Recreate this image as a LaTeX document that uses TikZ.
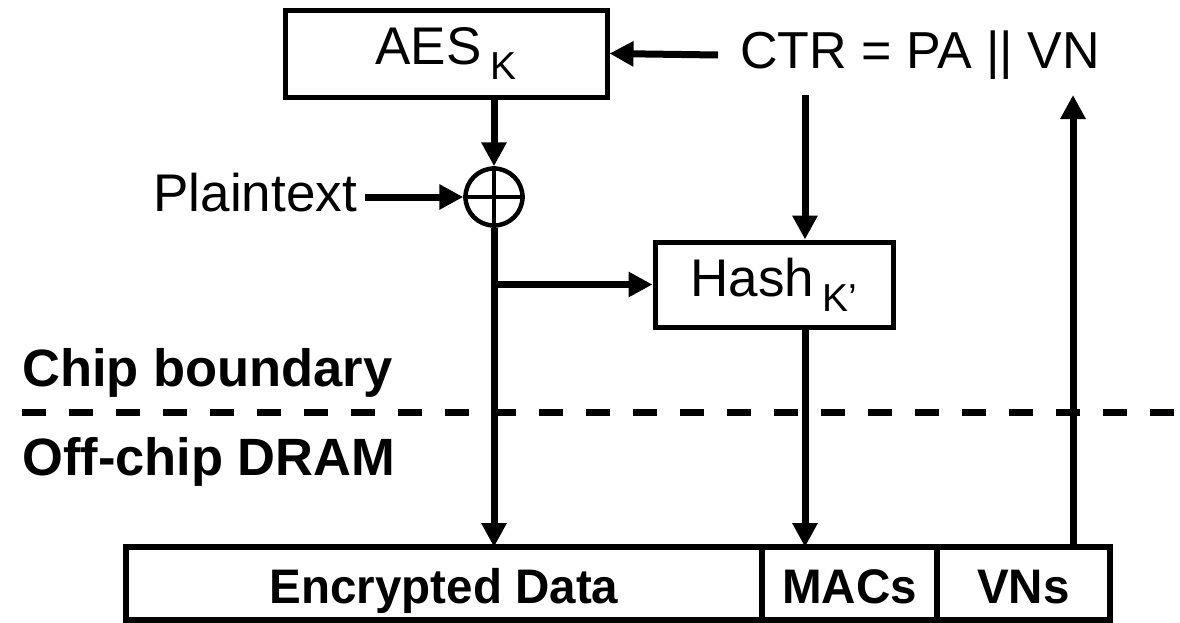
\documentclass[tikz,border=0pt]{standalone}
\usepackage{fontspec}
\usepackage{graphicx}
\setmainfont{Liberation Sans}
\usetikzlibrary{arrows.meta}

\newcommand{\bigtxt}{\fontsize{53}{62}\selectfont}
\newcommand{\ctrtxt}{\fontsize{52}{62}\selectfont}
\newcommand{\subtxt}{\fontsize{39}{44}\selectfont}
\newcommand{\lbltxt}{\fontsize{52.5}{62}\selectfont\bfseries}
\newcommand{\celltxt}[1]{\scalebox{0.98}[1]{\fontsize{48.5}{56}\selectfont\bfseries #1}}
\newcommand{\lowsub}[1]{\,\raisebox{-15pt}{\subtxt #1}}

\begin{document}
\begin{tikzpicture}[x=1pt,y=-1pt,
  blk/.style={draw, line width=5pt, inner sep=0pt},
  cell/.style={draw, line width=6.5pt, inner sep=0pt, outer sep=0pt,
    minimum height=73pt, text height=39pt, text depth=0pt},
  flow/.style={line width=7pt, -{Triangle[length=24pt,width=24pt]}},
  plain/.style={inner sep=0pt, font=\bigtxt},
  side/.style={inner sep=0pt, font=\lbltxt, anchor=base west}]

\useasboundingbox (0,0) rectangle (1180,622);

% cipher and MAC blocks
\node[blk, minimum width=322pt, minimum height=87pt] (aes) at (446,53.5)
  {\bigtxt AES\lowsub{K}};
\node[blk, minimum width=238pt, minimum height=85pt] (hash) at (774,284.5)
  {\bigtxt Hash\lowsub{K’}};
\node[draw, circle, line width=4.5pt, minimum size=57pt, inner sep=0pt] (xor) at (494,197) {};
\draw[line width=4pt] (xor.west) -- (xor.east) (xor.north) -- (xor.south);

% inputs
\node[plain, font=\ctrtxt, inner xsep=22pt, anchor=west] (ctr) at (718,55) {CTR = PA || VN};
\node[plain, inner xsep=8pt, anchor=base east] (ptx) at (365,211) {Plaintext};

% memory layout
\node[cell, minimum width=636pt] (enc) at (444,583.5) {\celltxt{Encrypted Data}};
\node[cell, minimum width=175pt, anchor=west] (mac) at (enc.east) {\celltxt{MACs}};
\node[cell, minimum width=173pt, anchor=west] (vns) at (mac.east) {\celltxt{VNs}};

% chip boundary
\coordinate (dl) at (22,412);
\coordinate (dr) at (1180,412);
\draw[line width=7pt, dash pattern=on 24pt off 23pt] (dl) -- (dr);
\node[side] (chip) at (22,386) {Chip boundary};
\node[side] (dram) at (22,475) {Off-chip DRAM};

% connectors
\coordinate (ctrdn) at (805,95);
\coordinate (vnup) at (1073,95);
\coordinate (br) at (494,284.5);
\draw[flow] (ctr.west) -- (aes.east);
\draw[flow] (aes.south -| xor) -- (xor.north);
\draw[flow] (ptx.east |- xor) -- (xor.west);
\draw[flow] (xor.south) -- (xor.south |- enc.north);
\draw[flow] (br) -- (hash.west);
\draw[flow] (ctrdn) -- (ctrdn |- hash.north);
\draw[flow] (ctrdn |- hash.south) -- (ctrdn |- mac.north);
\draw[flow] (vnup |- vns.north) -- (vnup);
\end{tikzpicture}
\end{document}
